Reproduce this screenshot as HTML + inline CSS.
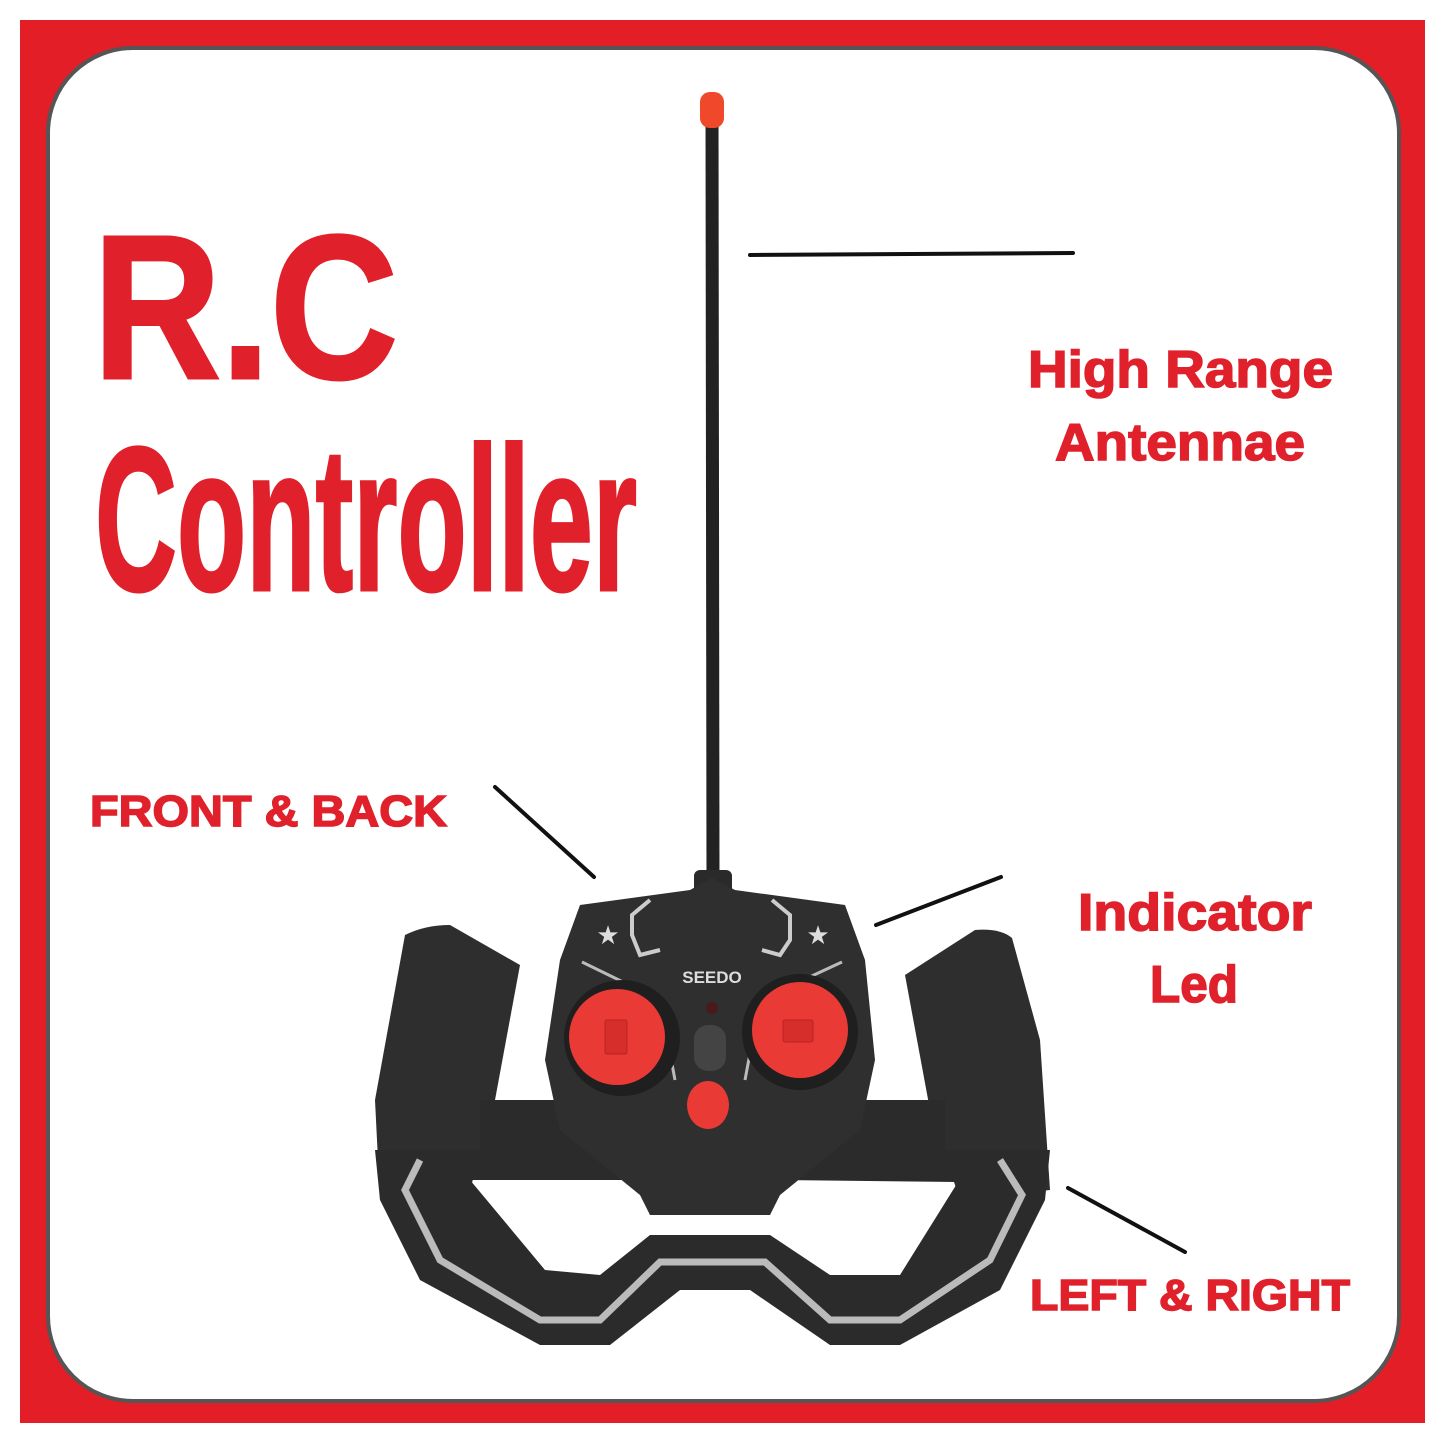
<!DOCTYPE html>
<html><head><style>html,body{margin:0;padding:0;background:#fff}svg{display:block}</style></head><body>
<svg width="1445" height="1445" viewBox="0 0 1445 1445" xmlns="http://www.w3.org/2000/svg">
<rect x="0" y="0" width="1445" height="1445" fill="#fff"/>
<rect x="20" y="20" width="1405" height="1403" fill="#e41e26"/>
<rect x="48" y="48" width="1351" height="1353" rx="85" fill="#fff" stroke="#555" stroke-width="4"/>
<g font-family="'Liberation Sans Narrow','Liberation Sans',sans-serif" font-weight="bold" fill="#e0202a" stroke="#e0202a" stroke-width="3">
<text x="93" y="378" font-size="205" textLength="305" lengthAdjust="spacingAndGlyphs">R.C</text>
<text x="95" y="590" font-size="205" textLength="542" lengthAdjust="spacingAndGlyphs">Controller</text>
</g>
<g font-family="'Liberation Sans',sans-serif" font-weight="bold" fill="#e0202a" stroke="#e0202a" stroke-width="1.5">
<text x="1028" y="387" font-size="52" textLength="305" lengthAdjust="spacingAndGlyphs">High Range</text>
<text x="1055" y="460" font-size="52" textLength="250" lengthAdjust="spacingAndGlyphs">Antennae</text>
<text x="1078" y="930" font-size="52" textLength="234" lengthAdjust="spacingAndGlyphs">Indicator</text>
<text x="1150" y="1002" font-size="52" textLength="88" lengthAdjust="spacingAndGlyphs">Led</text>
<text x="90" y="826" font-size="44" textLength="357" lengthAdjust="spacingAndGlyphs">FRONT &amp; BACK</text>
<text x="1030" y="1310" font-size="44" textLength="320" lengthAdjust="spacingAndGlyphs">LEFT &amp; RIGHT</text>
</g>
<g stroke="#111" stroke-width="4" stroke-linecap="round">
<line x1="750" y1="255" x2="1073" y2="253"/>
<line x1="495" y1="787" x2="594" y2="877"/>
<line x1="876" y1="925" x2="1001" y2="877"/>
<line x1="1068" y1="1188" x2="1185" y2="1252"/>
</g>
<line x1="712" y1="110" x2="713" y2="885" stroke="#222" stroke-width="13"/>
<rect x="700" y="92" width="24" height="36" rx="10" fill="#f0482a"/>
<rect x="694" y="870" width="38" height="30" rx="6" fill="#2a2a2a"/>
<path d="M405,935 Q425,925 450,925 L520,965 L495,1100 L470,1190 L380,1200 L375,1100 Z" fill="#2e2e2e"/>
<path d="M905,975 L975,930 Q1000,928 1012,938 L1040,1040 L1050,1190 L960,1200 L930,1110 Z" fill="#2e2e2e"/>
<rect x="480" y="1100" width="130" height="60" fill="#2b2b2b"/>
<rect x="820" y="1100" width="125" height="60" fill="#2b2b2b"/>
<path fill-rule="evenodd" fill="#2b2b2b" d="M375,1150 L1050,1150 L1045,1200 L1000,1290 L900,1345 L830,1345 L750,1290 L680,1290 L610,1345 L540,1345 L420,1280 L380,1200 Z M470,1180 L640,1180 L650,1215 L770,1215 L780,1180 L958,1182 L900,1275 L830,1275 L770,1235 L650,1235 L600,1275 L545,1270 Z"/>
<path fill="none" stroke="#bbb" stroke-width="7" d="M420,1160 L405,1190 L440,1260 L540,1320 L600,1320 L660,1262 L765,1262 L830,1320 L900,1320 L990,1260 L1022,1195 L1000,1160"/>
<path d="M580,905 L690,890 L712,878 L735,890 L845,905 L865,960 L875,1060 L860,1130 L780,1195 L770,1215 L650,1215 L640,1195 L560,1130 L545,1060 L560,960 Z" fill="#2f2f2f"/>
<path d="M650,900 L632,915 L632,935 L640,955 L660,950" fill="none" stroke="#ccc" stroke-width="4"/>
<path d="M772,900 L790,915 L790,940 L780,955 L762,950" fill="none" stroke="#ccc" stroke-width="4"/>
<path d="M582,962 L660,1000 L675,1080" fill="none" stroke="#bbb" stroke-width="3"/>
<path d="M842,962 L760,1000 L745,1080" fill="none" stroke="#bbb" stroke-width="3"/>
<text x="608" y="944" font-size="26" fill="#ddd" text-anchor="middle">★</text>
<text x="818" y="944" font-size="26" fill="#ddd" text-anchor="middle">★</text>
<text x="712" y="983" font-family="'Liberation Sans',sans-serif" font-weight="bold" font-size="17" fill="#ddd" text-anchor="middle">SEEDO</text>
<circle cx="622" cy="1038" r="58" fill="#1f1f1f"/>
<circle cx="800" cy="1032" r="58" fill="#1f1f1f"/>
<circle cx="617" cy="1037" r="48" fill="#ea3a35"/>
<circle cx="800" cy="1030" r="48" fill="#ea3a35"/>
<rect x="605" y="1020" width="22" height="34" rx="2" fill="#d52e2b" stroke="#b22" stroke-width="1"/>
<rect x="783" y="1020" width="30" height="22" rx="2" fill="#d52e2b" stroke="#b22" stroke-width="1"/>
<circle cx="712" cy="1008" r="6" fill="#4a1a1a"/>
<rect x="694" y="1025" width="32" height="46" rx="14" fill="#444"/>
<ellipse cx="708" cy="1105" rx="21" ry="24" fill="#ea3a35"/>
</svg>
</body></html>
